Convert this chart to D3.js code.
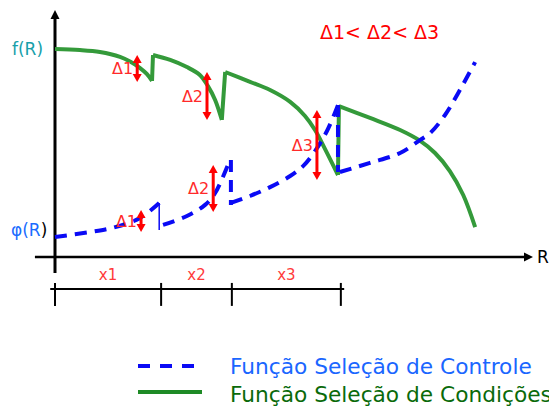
<!DOCTYPE html>
<html>
<head>
<meta charset="utf-8">
<script src="https://cdn.jsdelivr.net/npm/d3@7"></script>
<style>
  body { margin: 0; background: #fff; }
  text { font-family: "DejaVu Sans", Verdana, sans-serif; }
</style>
</head>
<body>
<script>
// f(R): Função Seleção de Condições (green), one array per piece between jumps
const fSegments = [
    [[0, 8.42], [0.52, 8.38], [0.94, 8.30], [1.36, 8.10], [1.57, 7.91], [1.78, 7.65], [1.92, 7.41], [2.03, 7.13]],
    [[2.05, 8.18], [2.41, 7.98], [2.76, 7.69], [3.03, 7.37], [3.20, 6.92], [3.35, 6.36], [3.49, 5.55]],
    [[3.56, 7.49], [4.08, 7.09], [4.50, 6.76], [4.92, 6.28], [5.23, 5.71], [5.44, 5.14], [5.65, 4.37], [5.92, 3.32]],
    [[5.94, 6.11], [6.59, 5.63], [7.22, 5.14], [7.64, 4.70], [7.95, 4.21], [8.26, 3.48], [8.54, 2.51], [8.79, 1.21]]
];

// φ(R): Função Seleção de Controle (blue dashed)
const phiSegments = [
    [[0, 0.81], [0.73, 1.01], [1.26, 1.21], [1.78, 1.58], [2.18, 2.19]],
    [[2.26, 1.30], [2.76, 1.66], [3.14, 2.11], [3.35, 2.59], [3.66, 3.93]],
    [[3.68, 2.19], [4.08, 2.47], [4.50, 2.83], [4.92, 3.28], [5.19, 3.68], [5.44, 4.29], [5.69, 5.10], [5.92, 6.15]],
    [[5.96, 3.44], [6.59, 3.81], [7.22, 4.21], [7.64, 4.74], [7.85, 5.02], [8.16, 5.75], [8.47, 6.76], [8.79, 7.89]]
];
// vertical drops of φ at the end of each piece (x, top, bottom)
const phiDrops = [[2.18, 2.19, 1.09], [3.68, 3.93, 2.11], [5.92, 6.15, 3.44]];

// Δ arrows: label, x, y from, y to
const deltas = [
    ["Δ1", 1.72, 8.18, 7.09],
    ["Δ2", 3.18, 7.49, 5.55],
    ["Δ3", 5.48, 5.95, 3.12],
    ["Δ1", 1.80, 1.90, 1.01],
    ["Δ2", 3.31, 3.72, 1.82]
];

// interval bar under the axis
const bounds = [0, 2.22, 3.70, 5.98];
const intervalLabels = ["x1", "x2", "x3"];

const title = "Δ1< Δ2< Δ3";
const legendLabels = ["Função Seleção de Controle", "Função Seleção de Condições"];

const width = 549, height = 409;
const blue = "#0a0af5", green = "#349a3a", red = "#ff0000";

const svg = d3.select("body").append("svg")
    .attr("width", width)
    .attr("height", height);

const x = d3.scaleLinear().domain([0, 10]).range([55, 533]);
const y = d3.scaleLinear().domain([0, 10]).range([257, 10]);

// small filled triangle, tip at (tipX, tipY)
function arrowHead(g, tipX, tipY, dir, len, half, color) {
    let pts;
    if (dir === "up") pts = [[tipX, tipY], [tipX - half, tipY + len], [tipX + half, tipY + len]];
    else if (dir === "down") pts = [[tipX, tipY], [tipX - half, tipY - len], [tipX + half, tipY - len]];
    else pts = [[tipX, tipY], [tipX - len, tipY - half], [tipX - len, tipY + half]];
    g.append("path").attr("d", "M" + pts.join("L") + "Z").attr("fill", color);
}

// axes
const axes = svg.append("g");
axes.append("line")
    .attr("x1", x(0)).attr("x2", x(0))
    .attr("y1", y(-0.65)).attr("y2", y(10) + 6)
    .attr("stroke", "#000").attr("stroke-width", 3);
arrowHead(axes, x(0), y(10), "up", 9, 4.5, "#000");
axes.append("line")
    .attr("x1", x(-0.42)).attr("x2", x(10) - 6)
    .attr("y1", y(0)).attr("y2", y(0))
    .attr("stroke", "#000").attr("stroke-width", 2.5);
arrowHead(axes, x(10), y(0), "right", 9, 4.5, "#000");

axes.append("text").attr("x", x(10) + 4).attr("y", y(0) + 6)
    .attr("font-size", 17).attr("fill", "#000").text("R");

// interval bar
const bar = svg.append("g");
bar.append("line")
    .attr("x1", x(-0.1)).attr("x2", x(6.05))
    .attr("y1", y(-1.3)).attr("y2", y(-1.3))
    .attr("stroke", "#000").attr("stroke-width", 2);
bar.selectAll("line.tick").data(bounds).enter().append("line")
    .attr("class", "tick")
    .attr("x1", d => x(d)).attr("x2", d => x(d))
    .attr("y1", y(-1.05)).attr("y2", y(-1.98))
    .attr("stroke", "#000").attr("stroke-width", 2);
bar.selectAll("text").data(intervalLabels).enter().append("text")
    .attr("x", (d, i) => (x(bounds[i]) + x(bounds[i + 1])) / 2)
    .attr("y", y(-0.73))
    .attr("dy", "0.35em")
    .attr("text-anchor", "middle")
    .attr("font-size", 15)
    .attr("fill", "#ff3a3a")
    .text(d => d);

// curves
const line = d3.line().x(d => x(d[0])).y(d => y(d[1])).curve(d3.curveCatmullRom.alpha(0.5));
const straight = d3.line().x(d => x(d[0])).y(d => y(d[1]));

// f(R) green
let fPath = "";
fSegments.forEach((seg, i) => {
    fPath += line(seg);
    if (i < fSegments.length - 1) {
        fPath += straight([seg[seg.length - 1], fSegments[i + 1][0]]);
    }
});
svg.append("path").attr("d", fPath)
    .attr("fill", "none").attr("stroke", green)
    .attr("stroke-width", 4).attr("stroke-linejoin", "round");

// φ(R) blue dashed
const phiG = svg.append("g");
phiSegments.forEach(seg => {
    phiG.append("path").attr("d", line(seg))
        .attr("fill", "none").attr("stroke", blue)
        .attr("stroke-width", 4).attr("stroke-dasharray", "12,8");
});
phiDrops.forEach((d, i) => {
    phiG.append("line")
        .attr("x1", x(d[0])).attr("x2", x(d[0]))
        .attr("y1", y(d[1])).attr("y2", y(d[2]))
        .attr("stroke", blue)
        .attr("stroke-width", i === 0 ? 1.5 : 4)
        .attr("stroke-dasharray", i === 0 ? null : "12,8");
});

// Δ arrows
const dg = svg.append("g");
deltas.forEach(d => {
    const px = x(d[1]), y1 = y(d[2]), y2 = y(d[3]);
    dg.append("line")
        .attr("x1", px).attr("x2", px)
        .attr("y1", y1 + 6).attr("y2", y2 - 6)
        .attr("stroke", red).attr("stroke-width", 3);
    arrowHead(dg, px, y1, "up", 8, 4.5, red);
    arrowHead(dg, px, y2, "down", 8, 4.5, red);
    dg.append("text")
        .attr("x", px - 4).attr("y", (y1 + y2) / 2)
        .attr("dy", "0.35em")
        .attr("text-anchor", "end")
        .attr("font-size", 16)
        .attr("fill", "#ff2a2a")
        .text(d[0]);
});

// title
svg.append("text").attr("x", 320).attr("y", 32).attr("dy", "0.35em")
    .attr("font-size", 19).attr("fill", red).text(title);

// y labels
svg.append("text").attr("x", 12).attr("y", y(8.42)).attr("dy", "0.35em")
    .attr("font-size", 17).attr("fill", "#17a0aa").text("f(R)");
const phiLab = svg.append("text").attr("x", 11).attr("y", y(1.09)).attr("dy", "0.35em")
    .attr("font-size", 17).attr("fill", "#1a6cff");
phiLab.append("tspan").text("φ(R");
phiLab.append("tspan").attr("fill", "#000").text(")");

// legend
const lg = svg.append("g");
lg.append("line").attr("x1", 138).attr("x2", 196).attr("y1", 366).attr("y2", 366)
    .attr("stroke", blue).attr("stroke-width", 4).attr("stroke-dasharray", "12,10");
lg.append("line").attr("x1", 138).attr("x2", 202).attr("y1", 392).attr("y2", 392)
    .attr("stroke", "#1e8a26").attr("stroke-width", 4);
lg.append("text").attr("x", 230).attr("y", 374).attr("font-size", 21.7)
    .attr("fill", "#1a66ff").text(legendLabels[0]);
lg.append("text").attr("x", 230).attr("y", 402).attr("font-size", 21.7)
    .attr("fill", "#0a6a0a").text(legendLabels[1]);
</script>
</body>
</html>
